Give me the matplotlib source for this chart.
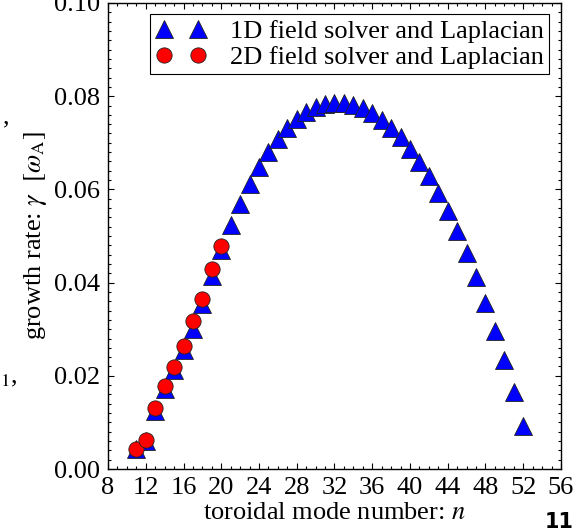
import matplotlib
matplotlib.use("Agg")
import matplotlib.pyplot as plt
from matplotlib.ticker import MultipleLocator

# growth rate vs toroidal mode number
n_1d = list(range(11, 53))
gamma_1d = [0.0043, 0.0060, 0.0125, 0.0171, 0.0213, 0.0256, 0.0301, 0.0354, 0.0414, 0.0471,
            0.0523, 0.0568, 0.0611, 0.0648, 0.0680, 0.0708, 0.0731, 0.0751, 0.0766, 0.0777,
            0.0783, 0.0785, 0.0785, 0.0781, 0.0774, 0.0764, 0.0749, 0.0731, 0.0712, 0.0686,
            0.0659, 0.0628, 0.0592, 0.0553, 0.0511, 0.0463, 0.0412, 0.0356, 0.0296, 0.0234,
            0.0165, 0.0092]

n_2d = list(range(11, 21))
gamma_2d = [0.0043, 0.0062, 0.0131, 0.0178, 0.0219, 0.0264, 0.0317, 0.0365, 0.0429, 0.0478]

label_1d = "1D field solver and Laplacian"
label_2d = "2D field solver and Laplacian"

FS = 19
plt.rcParams['font.family'] = ['Liberation Serif', 'DejaVu Serif']
plt.rcParams['mathtext.fontset'] = 'stix'
plt.rcParams['font.size'] = FS

fig = plt.figure(figsize=(5.73, 5.32), dpi=100)
ax = fig.add_axes([0.1885, 0.1184, 0.7905, 0.876])

ax.plot(n_1d, gamma_1d, linestyle='none', marker='^', markersize=12.5,
        markerfacecolor='#0000ff', markeredgecolor='#222222', markeredgewidth=0.6,
        label=label_1d, zorder=3)
ax.plot(n_2d, gamma_2d, linestyle='none', marker='o', markersize=11,
        markerfacecolor='#ff0000', markeredgecolor='#222222', markeredgewidth=0.6,
        label=label_2d, zorder=4)

ax.set_xlim(8, 56)
ax.set_ylim(0.0, 0.10)
ax.xaxis.set_major_locator(MultipleLocator(4))
ax.xaxis.set_minor_locator(MultipleLocator(1))
ax.yaxis.set_major_locator(MultipleLocator(0.02))
ax.yaxis.set_minor_locator(MultipleLocator(0.002))
ax.tick_params(which='both', direction='in', top=True, right=True, width=0.8)
ax.tick_params(which='major', length=4.5, pad=6, labelsize=FS)
ax.tick_params(which='minor', length=2.5)
for s in ax.spines.values():
    s.set_linewidth(1.0)

ax.set_xlabel(r"toroidal mode number: $n$", fontsize=FS, labelpad=2)
ax.set_ylabel(r"growth rate: $\gamma$  $[\omega_{\rm A}]$", fontsize=FS, labelpad=3)

leg = ax.legend(loc='upper right', bbox_to_anchor=(0.973, 0.976), borderaxespad=0,
                numpoints=2, handlelength=1.9, handletextpad=0.9, borderpad=0.2,
                labelspacing=0.1, fancybox=False, framealpha=1, fontsize=FS)
leg.get_frame().set_edgecolor('black')
leg.get_frame().set_linewidth(0.8)

# leftover bits of the surrounding page
fig.text(0.006, 0.78, ",", fontsize=FS, va='center')
fig.text(0.0, 0.29, r"$_1$,", fontsize=FS, va='center', ha='left')
fig.text(0.951, 0.0, "11", fontsize=15, fontweight='bold', family='DejaVu Sans',
         ha='left', va='bottom')

fig.savefig("out.png", dpi=100)
